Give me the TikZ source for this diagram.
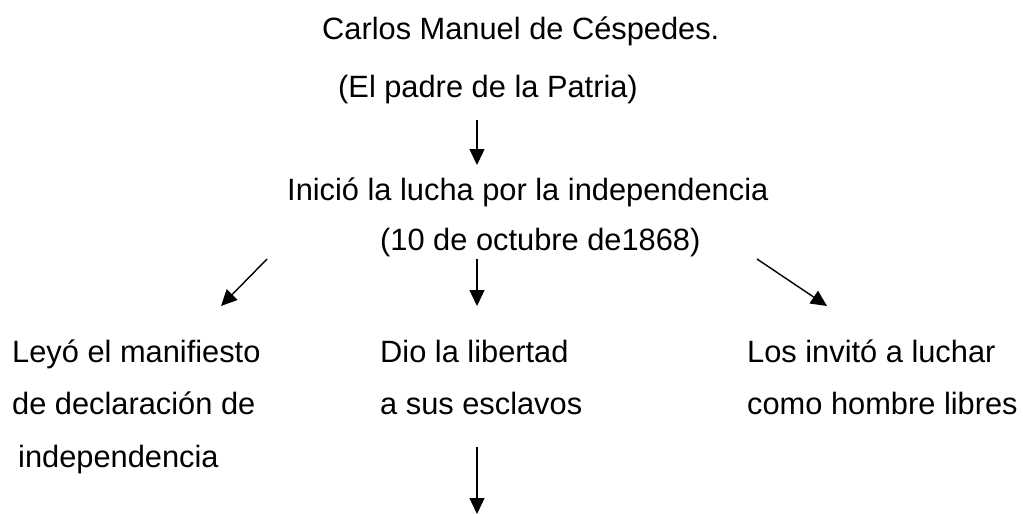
\documentclass[tikz,border=0pt]{standalone}
\usepackage{fontspec}
\setmainfont{Liberation Sans}
\usetikzlibrary{arrows.meta}
\tikzset{
    txt/.style={anchor=base west, inner sep=0pt, font=\fontsize{30.8}{36}\selectfont},
    flecha/.style={-{Triangle[length=16pt,width=15pt]}, line width=1.4pt},
}

\begin{document}
\begin{tikzpicture}[x=1pt,y=-1pt]
    \useasboundingbox (0,0) rectangle (1023,514);

    %Cabecera
    \node[txt] (titulo) at (322,39) {Carlos Manuel de Céspedes.};
    \node[txt] (padre) at (338,97) {(El padre de la Patria)};
    \node[txt] (lucha) at (287,200) {Inició la lucha por la independencia};
    \node[txt] (fecha) at (380,250) {(10 de octubre de1868)};

    %Columnas
    \foreach \i/\y/\x/\t in {1/362/12/Leyó el manifiesto, 2/414/12/de declaración de, 3/467/18/independencia} {
        \node[txt] (izq\i) at (\x,\y) {\t};
    }
    \foreach \i/\y/\t in {1/362/Dio la libertad, 2/414/a sus esclavos} {
        \node[txt] (cen\i) at (380,\y) {\t};
    }
    \foreach \i/\y/\t in {1/362/Los invitó a luchar, 2/414/como hombre libres} {
        \node[txt] (der\i) at (747,\y) {\t};
    }

    %Flechas
    \coordinate (p0) at (477,120);
    \coordinate (q0) at (477,165);
    \coordinate (pi) at (267,259);
    \coordinate (qi) at (221,306);
    \coordinate (pc) at (477,259);
    \coordinate (qc) at (477,306);
    \coordinate (pd) at (757,259);
    \coordinate (qd) at (827,306);
    \coordinate (pb) at (477,447);
    \coordinate (qb) at (477,514);
    \foreach \a in {0,i,c,d,b} {
        \draw[flecha] (p\a) -- (q\a);
    }
\end{tikzpicture}
\end{document}
